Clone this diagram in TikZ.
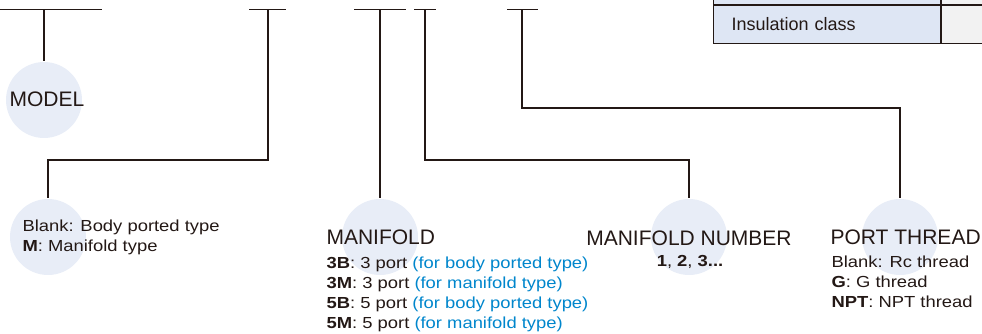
\documentclass[tikz,border=0pt]{standalone}
\usepackage{fontspec}
\setmainfont{Liberation Sans}
\newfontfamily\bodyfont[FakeStretch=1.15]{Liberation Sans}
\usetikzlibrary{positioning}
\definecolor{lineclr}{RGB}{35,24,21}
\definecolor{dotclr}{RGB}{232,237,247}
\definecolor{cellblue}{RGB}{222,230,244}
\definecolor{cellgray}{RGB}{242,242,242}
\definecolor{noteblue}{RGB}{0,134,204}
\newcommand{\note}[1]{\textcolor{noteblue}{#1}}

\begin{document}
\begin{tikzpicture}[x=1pt,y=-1pt,line width=1.1pt,color=lineclr,
    dot/.style={circle,fill=dotclr,minimum size=76pt,inner sep=0pt},
    title/.style={anchor=base west,inner sep=0pt,font=\fontsize{21}{25}\selectfont},
    items/.style={anchor=base west,inner sep=0pt,align=left,font=\bodyfont\fontsize{16}{20}\selectfont},
    labcell/.style={draw,fill=cellblue,anchor=north west,minimum height=38pt,text width=191pt,inner xsep=18pt,font=\fontsize{18}{22}\selectfont},
    valcell/.style={draw,fill=cellgray,anchor=north west,minimum height=38pt,minimum width=60pt}]
    \useasboundingbox (0,0) rectangle (982,334);

    \node[labcell] (inscell) at (713,5) {Insulation class};
    \node[valcell] (insval) at (inscell.north east) {};
    \node[labcell,anchor=south west] (prevcell) at (inscell.north west) {};
    \node[valcell,anchor=south west] (prevval) at (inscell.north east) {};

    \foreach \a/\b in {0/102,249/286,354/406,414/436,507/538}
      \draw (\a,9.5) -- (\b,9.5);
    \coordinate (t1) at (44,9.5);
    \coordinate (t2) at (268,9.5);
    \coordinate (t3) at (380,9.5);
    \coordinate (t4) at (425,9.5);
    \coordinate (t5) at (522,9.5);
    \coordinate (k2) at (48,160);
    \coordinate (k4) at (689,160);
    \coordinate (k5) at (900,108);

    \node[dot] (model) at (44,100) {};
    \node[dot] (body) at (48,237) {};
    \node[dot] (mani) at (380,237) {};
    \node[dot] (num) at (689,237) {};
    \node[dot] (port) at (900,237) {};

    \draw (t1) -- (model);
    \draw (t2) |- (k2) -- (body);
    \draw (t3) -- (mani);
    \draw (t4) |- (k4) -- (num);
    \draw (t5) |- (k5) -- (port);

    \node[title] (modeltxt) at (9,107) {MODEL};
    \node[items] (bodytxt) at (22,251) {Blank: Body ported type\\\textbf{M}: Manifold type};
    \node[title] (manitxt) at (326,244) {MANIFOLD};
    \node[items] (manilist) at (326,328) {\textbf{3B}: 3 port \note{(for body ported type)}\\
      \textbf{3M}: 3 port \note{(for manifold type)}\\
      \textbf{5B}: 5 port \note{(for body ported type)}\\
      \textbf{5M}: 5 port \note{(for manifold type)}};
    \node[title,anchor=base] (numtxt) at (689,245) {MANIFOLD NUMBER};
    \node[items,anchor=base] (numlist) at (690,266) {\textbf{1}, \textbf{2}, \textbf{3...}};
    \node[title] (porttxt) at (830,244) {PORT THREAD};
    \node[items] (portlist) at (831,307) {Blank: Rc thread\\\textbf{G}: G thread\\\textbf{NPT}: NPT thread};
\end{tikzpicture}
\end{document}
